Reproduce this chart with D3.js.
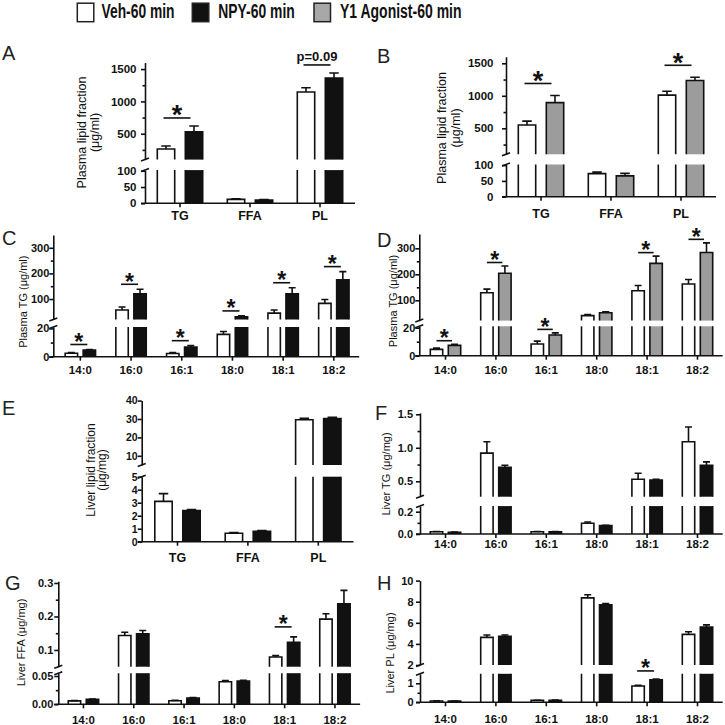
<!DOCTYPE html>
<html><head><meta charset="utf-8">
<script src="https://cdn.jsdelivr.net/npm/d3@7"></script>
<style>
html,body{margin:0;padding:0;background:#fff;}
svg{display:block;font-family:"Liberation Sans",Arial,Helvetica,sans-serif;}
</style></head><body>
<svg id="chart" width="725" height="725"></svg>
<script>
// ---------------- DATA ----------------
const seriesNames = ["Veh-60 min", "NPY-60 min", "Y1 Agonist-60 min"];
const fractionCats = ["TG", "FFA", "PL"];
const acylCats = ["14:0", "16:0", "16:1", "18:0", "18:1", "18:2"];

// A  Plasma lipid fraction (µg/ml): Veh vs NPY
const aVeh = [265, 12, 1145];
const aVehErr = [45, 1.5, 65];
const aNpy = [530, 10, 1360];
const aNpyErr = [90, 1.5, 80];
const aSig = [{cat: "TG", text: "*"}, {cat: "PL", text: "p=0.09"}];
const aTicksLow = [0, 50, 100];
const aTicksUp = [500, 1000, 1500];
const aMinorUp = [250, 750, 1250];

// B  Plasma lipid fraction (µg/ml): Veh vs Y1 agonist
const bVeh = [550, 73, 1010];
const bVehErr = [60, 5, 60];
const bY1 = [895, 66, 1235];
const bY1Err = [110, 8, 50];
const bSig = [{cat: "TG", text: "*"}, {cat: "PL", text: "*"}];
const bTicksLow = [0, 50, 100];
const bTicksUp = [500, 1000, 1500];
const bMinorUp = [250, 750, 1250];

// C  Plasma TG (µg/ml): Veh vs NPY
const cVeh = [2.4, 57, 2.3, 15.8, 45, 83];
const cVehErr = [0.6, 12, 0.7, 2, 12, 15];
const cNpy = [4.7, 120, 6.8, 31, 120, 175];
const cNpyErr = [0.4, 18, 1, 3, 24, 32];
const cSig = ["14:0", "16:0", "16:1", "18:0", "18:1", "18:2"];
const cTicksLow = [0, 20];
const cMinorLow = [10];
const cTicksUp = [100, 200, 300];
const cMinorUp = [150, 250];

// D  Plasma TG (µg/ml): Veh vs Y1 agonist
const dVeh = [4.5, 129, 8.4, 41, 137, 163];
const dVehErr = [0.9, 14, 2, 4, 20, 17];
const dY1 = [7.4, 204, 14.8, 52, 242, 284];
const dY1Err = [0.8, 28, 1.5, 4, 28, 37];
const dSig = ["14:0", "16:0", "16:1", "18:1", "18:2"];
const dTicksLow = [0, 20];
const dMinorLow = [10];
const dTicksUp = [100, 200, 300];
const dMinorUp = [150, 250];

// E  Liver lipid fraction (µg/mg)
const eVeh = [3.1, 0.65, 29.6];
const eVehErr = [0.6, 0.05, 0.8];
const eNpy = [2.4, 0.8, 30.2];
const eNpyErr = [0.08, 0.06, 0.7];
const eTicksLow = [0, 1, 2, 3, 4, 5];
const eTicksUp = [10, 20, 30, 40];

// F  Liver TG (µg/mg)
const fVeh = [0.02, 0.92, 0.02, 0.096, 0.53, 1.09];
const fVehErr = [0.003, 0.17, 0.003, 0.012, 0.09, 0.22];
const fNpy = [0.015, 0.71, 0.02, 0.075, 0.52, 0.74];
const fNpyErr = [0.002, 0.03, 0.002, 0.003, 0.01, 0.05];
const fTicksLow = [0, 0.2];
const fMinorLow = [0.1];
const fTicksUp = [0.5, 1.0, 1.5];
const fMinorUp = [0.75, 1.25];

// G  Liver FFA (µg/mg)
const gVeh = [0.006, 0.143, 0.0064, 0.040, 0.079, 0.192];
const gVehErr = [0.0005, 0.01, 0.0005, 0.002, 0.004, 0.016];
const gNpy = [0.0088, 0.148, 0.011, 0.041, 0.123, 0.238];
const gNpyErr = [0.0005, 0.01, 0.0008, 0.0015, 0.016, 0.04];
const gSig = ["18:1"];
const gTicksLow = [0, 0.05];
const gMinorLow = [0.025];
const gTicksUp = [0.1, 0.2, 0.3];
const gMinorUp = [0.15, 0.25];

// H  Liver PL (µg/mg)
const hVeh = [0.07, 4.62, 0.1, 8.36, 0.86, 4.9];
const hVehErr = [0.01, 0.22, 0.01, 0.3, 0.03, 0.25];
const hNpy = [0.06, 4.72, 0.11, 7.7, 1.18, 5.6];
const hNpyErr = [0.01, 0.12, 0.01, 0.12, 0.05, 0.2];
const hSig = ["18:1"];
const hTicksLow = [0, 1];
const hMinorLow = [0.5];
const hTicksUp = [2, 4, 6, 8, 10];

// ---------------- STYLE ----------------
const FILL = ["#ffffff", "#111111", "#9c9c9c"];
const INK = "#111";
const SW = 1.6;
const fmtInt = d3.format("d"), fmt1 = d3.format(".1f"), fmt2 = d3.format(".2f");
const MU = "\u03bc";

const svg = d3.select("#chart");

// ---------------- LEGEND ----------------
const legendLayout = [
  {bx: 77.3, tx: 101.5, tw: 73},
  {bx: 192.3, tx: 218.3, tw: 76.5},
  {bx: 314, tx: 340, tw: 121.5}
];
seriesNames.forEach((name, i) => {
  const L = legendLayout[i];
  svg.append("rect").attr("x", L.bx).attr("y", 3.2).attr("width", 16.5).attr("height", 18.5)
    .attr("fill", i === 2 ? "#a8a8a8" : FILL[i]).attr("stroke", "#222").attr("stroke-width", 1.5);
  svg.append("text").attr("x", L.tx).attr("y", 18.2).text(name)
    .attr("font-size", 19.5).attr("font-weight", "bold").attr("fill", INK)
    .attr("textLength", L.tw).attr("lengthAdjust", "spacingAndGlyphs");
});

// ---------------- PANELS ----------------
const panels = [
  {letter: "A", lpos: [2, 60], cats: fractionCats, vals: [aVeh, aNpy], errs: [aVehErr, aNpyErr], fills: [FILL[0], FILL[1]],
   sig: aSig, tLow: aTicksLow, tUp: aTicksUp, mLow: [], mUp: aMinorUp, fLow: fmtInt, fUp: fmtInt,
   ax: 145, x0: 145, band: 70, barW: 19, gapH: 4.5, low: [0, 102], lowR: [203.3, 170.1], up: [100, 1600], upR: [159.6, 62.6],
   tickPad: 8.5, tickFs: 11.5, xlabOff: 17, xlabFs: 12.5, sigOff: 8, sigL: -16.5, sigR: 10.5, starFs: 27,
   ylab: ["Plasma lipid fraction", "(" + MU + "g/ml)"], ylabX: [86, 98.5], ylabY: 132.5, ylabFs: 12.5},
  {letter: "B", lpos: [377, 63], cats: fractionCats, vals: [bVeh, bY1], errs: [bVehErr, bY1Err], fills: [FILL[0], FILL[2]],
   sig: bSig, tLow: bTicksLow, tUp: bTicksUp, mLow: [], mUp: bMinorUp, fLow: fmtInt, fUp: fmtInt,
   ax: 506, x0: 506, band: 70, barW: 19, gapH: 4.5, low: [0, 102], lowR: [196.7, 164.5], up: [100, 1600], upR: [154.3, 56.8],
   tickPad: 12.5, tickFs: 11.5, xlabOff: 21.5, xlabFs: 12.5, sigOff: 12, sigL: -16.5, sigR: 10.5, starFs: 27,
   ylab: ["Plasma lipid fraction", "(" + MU + "g/ml)"], ylabX: [446, 459.5], ylabY: 128, ylabFs: 12.5},
  {letter: "C", lpos: [2, 245], cats: acylCats, vals: [cVeh, cNpy], errs: [cVehErr, cNpyErr], fills: [FILL[0], FILL[1]],
   sig: cSig.map(c => ({cat: c, text: "*"})), tLow: cTicksLow, tUp: cTicksUp, mLow: cMinorLow, mUp: cMinorUp, fLow: fmtInt, fUp: fmtInt,
   ax: 53.3, x0: 55, band: 50.7, barW: 14, gapH: 2, low: [0, 21], lowR: [356.7, 327], up: [20, 350], upR: [319.5, 235],
   tickPad: 4, tickFs: 11, xlabOff: 17.3, xlabFs: 11.5, sigOff: 5, sigL: -10, sigR: 7, starFs: 23,
   ylab: ["Plasma TG (" + MU + "g/ml)"], ylabX: [26.5], ylabY: 301.7, ylabFs: 11},
  {letter: "D", lpos: [377, 246.5], cats: acylCats, vals: [dVeh, dY1], errs: [dVehErr, dY1Err], fills: [FILL[0], FILL[2]],
   sig: dSig.map(c => ({cat: c, text: "*"})), tLow: dTicksLow, tUp: dTicksUp, mLow: dMinorLow, mUp: dMinorUp, fLow: fmtInt, fUp: fmtInt,
   ax: 419.3, x0: 420.3, band: 50.4, barW: 14, gapH: 2, low: [0, 21], lowR: [355.7, 326.3], up: [22, 355], upR: [320.6, 234],
   tickPad: 4, tickFs: 11, xlabOff: 18.5, xlabFs: 11.5, sigOff: 3.5, sigL: -9, sigR: 6.5, starFs: 23,
   ylab: ["Plasma TG (" + MU + "g/ml)"], ylabX: [396.5], ylabY: 301, ylabFs: 11},
  {letter: "E", lpos: [2, 415], cats: fractionCats, vals: [eVeh, eNpy], errs: [eVehErr, eNpyErr], fills: [FILL[0], FILL[1]],
   sig: [], tLow: eTicksLow, tUp: eTicksUp, mLow: [], mUp: [], fLow: fmtInt, fUp: fmtInt,
   ax: 141.7, x0: 142.3, band: 70.4, barW: 19, gapH: 4.5, low: [0, 5], lowR: [541.7, 476.7], up: [5, 40], upR: [465, 400.6],
   tickPad: 4, tickFs: 10.5, xlabOff: 20, xlabFs: 12.5, sigOff: 8, sigL: -16.5, sigR: 10.5, starFs: 27,
   ylab: ["Liver lipid fraction", "(" + MU + "g/mg)"], ylabX: [94.5, 106], ylabY: 470, ylabFs: 12},
  {letter: "F", lpos: [375, 420], cats: acylCats, vals: [fVeh, fNpy], errs: [fVehErr, fNpyErr], fills: [FILL[0], FILL[1]],
   sig: [], tLow: fTicksLow, tUp: fTicksUp, mLow: fMinorLow, mUp: fMinorUp, fLow: fmt1, fUp: fmt1,
   ax: 420, x0: 420.3, band: 50.4, barW: 14, gapH: 2, low: [0, 0.25], lowR: [534, 506.1], up: [0.27, 1.52], upR: [496.7, 412.95],
   tickPad: 7, tickFs: 11, xlabOff: 13.8, xlabFs: 11.5, sigOff: 5, sigL: -9, sigR: 6.5, starFs: 23,
   ylab: ["Liver TG (" + MU + "g/mg)"], ylabX: [390], ylabY: 474, ylabFs: 11},
  {letter: "G", lpos: [5, 590], cats: acylCats, vals: [gVeh, gNpy], errs: [gVehErr, gNpyErr], fills: [FILL[0], FILL[1]],
   sig: gSig.map(c => ({cat: c, text: "*"})), tLow: gTicksLow, tUp: gTicksUp, mLow: gMinorLow, mUp: gMinorUp, fLow: fmt2, fUp: fmt1,
   ax: 58.3, x0: 58.3, band: 50.3, barW: 14, gapH: 2, low: [0, 0.055], lowR: [704.3, 673.2], up: [0.05, 0.305], upR: [666.7, 581.3],
   tickPad: 5, tickFs: 11, xlabOff: 19.5, xlabFs: 11.5, sigOff: 10, sigL: -10, sigR: 7, starFs: 23,
   ylab: ["Liver FFA (" + MU + "g/mg)"], ylabX: [25], ylabY: 642.5, ylabFs: 11},
  {letter: "H", lpos: [377, 590], cats: acylCats, vals: [hVeh, hNpy], errs: [hVehErr, hNpyErr], fills: [FILL[0], FILL[1]],
   sig: hSig.map(c => ({cat: c, text: "*"})), tLow: hTicksLow, tUp: hTicksUp, mLow: hMinorLow, mUp: [], fLow: fmtInt, fUp: fmtInt,
   ax: 420, x0: 420.3, band: 50.4, barW: 14, gapH: 2, low: [0, 1.5], lowR: [702.3, 673.8], up: [2, 10], upR: [665, 580.6],
   tickPad: 6.5, tickFs: 11, xlabOff: 21, xlabFs: 11.5, sigOff: 8, sigL: -10, sigR: 7, starFs: 23,
   ylab: ["Liver PL (" + MU + "g/mg)"], ylabX: [393.5], ylabY: 653, ylabFs: 11}
];

function styleAxis(sel, fs) {
  sel.select(".domain").attr("stroke", INK).attr("stroke-width", SW);
  sel.selectAll(".tick line").attr("stroke", INK).attr("stroke-width", SW);
  sel.selectAll(".tick text").attr("fill", INK).attr("font-size", fs).attr("font-weight", "bold")
    .attr("font-family", "'Liberation Sans', Arial, sans-serif");
}

function drawPanel(P) {
  const g = svg.append("g");
  const n = P.cats.length;
  const x = d3.scaleBand().domain(P.cats).range([P.x0, P.x0 + P.band * n]);
  const yLow = d3.scaleLinear().domain(P.low).range(P.lowR);
  const yUp = d3.scaleLinear().domain(P.up).range(P.upR);
  const yv = v => v <= P.low[1] ? yLow(v) : yUp(Math.max(v, P.up[0]));
  const cx = c => x(c) + x.bandwidth() / 2;

  // bars
  P.vals.forEach((arr, s) => {
    arr.forEach((v, i) => {
      const c = cx(P.cats[i]);
      const outerL = s === 0 ? c - P.gapH - P.barW : c + P.gapH;
      const xl = outerL + SW / 2, w = P.barW - SW;
      const pieces = [];
      if (v <= P.low[1]) pieces.push({y0: yLow(0), y1: yLow(v), top: true});
      else {
        pieces.push({y0: yLow(0), y1: yLow(P.low[1]), top: false});
        pieces.push({y0: yUp(P.up[0]), y1: yUp(v), top: true});
      }
      pieces.forEach(p => {
        g.append("rect").attr("x", xl).attr("y", p.y1).attr("width", w).attr("height", Math.max(0, p.y0 - p.y1))
          .attr("fill", P.fills[s]);
        const d = p.top ? `M${xl},${p.y0}V${p.y1}H${xl + w}V${p.y0}`
                        : `M${xl},${p.y0}V${p.y1}M${xl + w},${p.y1}V${p.y0}`;
        g.append("path").attr("d", d).attr("fill", "none").attr("stroke", INK).attr("stroke-width", SW);
      });
      // error bar (upper only)
      const e = P.errs[s][i];
      const ex = xl + w / 2, cap = P.barW * 0.5;
      const yt = yv(v + e), yb = yv(v);
      g.append("path").attr("d", `M${ex},${yb}V${yt}M${ex - cap / 2},${yt}H${ex + cap / 2}`)
        .attr("fill", "none").attr("stroke", INK).attr("stroke-width", SW);
    });
  });

  // y axes (two segments)
  const tickSize = 4;
  const pad = Math.max(0, P.tickPad - tickSize);
  const gl = g.append("g").attr("transform", `translate(${P.ax},0)`)
    .call(d3.axisLeft(yLow).tickValues(P.tLow).tickFormat(P.fLow).tickSize(tickSize).tickSizeOuter(0).tickPadding(pad));
  styleAxis(gl, P.tickFs);
  const gu = g.append("g").attr("transform", `translate(${P.ax},0)`)
    .call(d3.axisLeft(yUp).tickValues(P.tUp).tickFormat(P.fUp).tickSize(tickSize).tickSizeOuter(0).tickPadding(pad));
  styleAxis(gu, P.tickFs);
  if (P.mLow.length) {
    const m = g.append("g").attr("transform", `translate(${P.ax},0)`)
      .call(d3.axisLeft(yLow).tickValues(P.mLow).tickFormat("").tickSize(2.5));
    m.select(".domain").remove(); styleAxis(m, P.tickFs);
  }
  if (P.mUp.length) {
    const m = g.append("g").attr("transform", `translate(${P.ax},0)`)
      .call(d3.axisLeft(yUp).tickValues(P.mUp).tickFormat("").tickSize(2.5));
    m.select(".domain").remove(); styleAxis(m, P.tickFs);
  }
  // break marks
  [P.lowR[1], P.upR[0]].forEach(yb => {
    g.append("line").attr("x1", P.ax - 4).attr("y1", yb + 1.5).attr("x2", P.ax + 4).attr("y2", yb - 1.5)
      .attr("stroke", INK).attr("stroke-width", SW);
  });

  // x axis
  const y0 = yLow(0);
  g.append("line").attr("x1", P.ax - 4).attr("x2", P.x0 + P.band * n).attr("y1", y0).attr("y2", y0)
    .attr("stroke", INK).attr("stroke-width", SW);
  const gx = g.append("g").attr("transform", `translate(0,${y0})`)
    .call(d3.axisBottom(x).tickSize(4));
  gx.select(".domain").remove();
  styleAxis(gx, P.xlabFs);
  gx.selectAll(".tick text").attr("y", P.xlabOff).attr("dy", 0);

  // significance
  P.sig.forEach(sg => {
    const i = P.cats.indexOf(sg.cat);
    const c = cx(sg.cat);
    const top = Math.min(...P.vals.map((arr, s) => yv(arr[i] + P.errs[s][i])));
    const ly = top - P.sigOff;
    g.append("line").attr("x1", c + P.sigL).attr("x2", c + P.sigR).attr("y1", ly).attr("y2", ly)
      .attr("stroke", INK).attr("stroke-width", SW);
    const star = sg.text === "*";
    g.append("text").attr("x", c + (P.sigL + P.sigR) / 2).attr("y", star ? ly + P.starFs * 0.24 : ly - 4)
      .attr("text-anchor", "middle").attr("font-weight", "bold").attr("fill", INK)
      .attr("font-size", star ? P.starFs : 13).text(sg.text);
  });

  // y label
  P.ylab.forEach((t, k) => {
    g.append("text").attr("transform", `translate(${P.ylabX[k]},${P.ylabY}) rotate(-90)`)
      .attr("text-anchor", "middle").attr("font-size", P.ylabFs).attr("fill", INK).text(t);
  });

  // panel letter
  g.append("text").attr("x", P.lpos[0]).attr("y", P.lpos[1]).attr("font-size", 20).attr("fill", "#222").text(P.letter);
}

panels.forEach(drawPanel);
</script>
</body></html>
